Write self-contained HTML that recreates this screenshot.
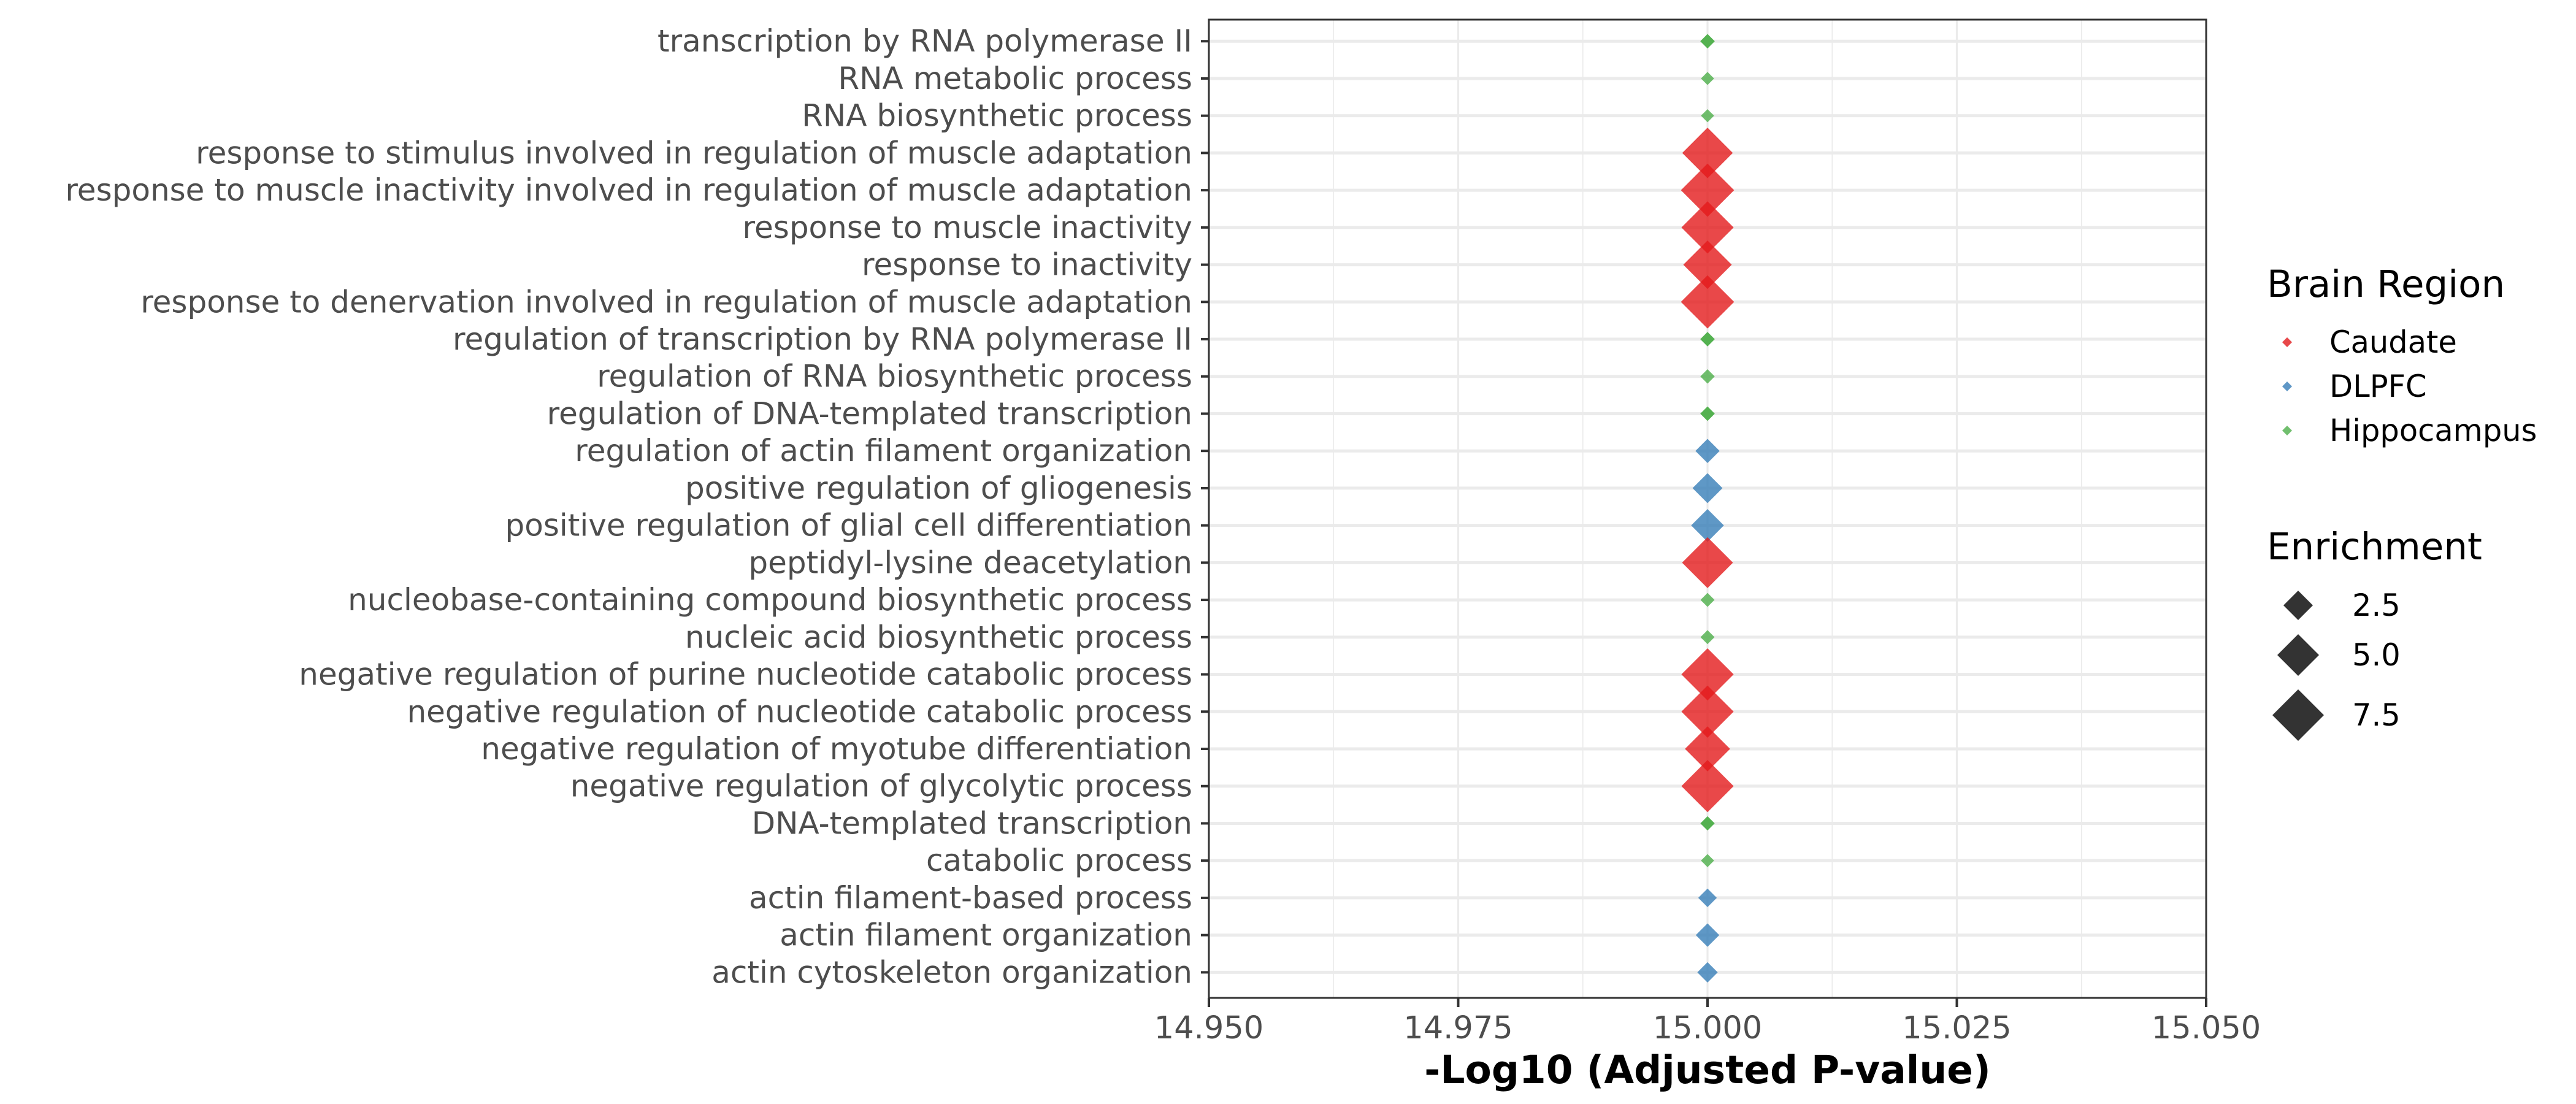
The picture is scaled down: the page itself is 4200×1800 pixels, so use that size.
<!DOCTYPE html>
<html><head><meta charset="utf-8">
<style>
html,body{margin:0;padding:0;background:#fff;}
svg{display:block;font-family:"DejaVu Sans","Liberation Sans",sans-serif;}
</style></head>
<body>
<svg id="chart" xmlns="http://www.w3.org/2000/svg" width="4200" height="1800" viewBox="0 0 4200 1800">
<rect x="0" y="0" width="4200" height="1800" fill="#fff"/>
<g id="grid"></g>
<g id="points"></g>
<g id="axes"></g>
<text x="2784" y="1766" text-anchor="middle" font-size="63" font-weight="bold" fill="#000">-Log10 (Adjusted P-value)</text>
<g>
<text x="3696" y="484" font-size="61" fill="#000">Brain Region</text>
<polygon points="3729,550 3737,558 3729,566 3721,558" fill="#E8484A"/>
<text x="3798" y="575" font-size="49.5" fill="#000">Caudate</text>
<polygon points="3729,622 3737,630 3729,638 3721,630" fill="#5F97C6"/>
<text x="3798" y="647" font-size="49.5" fill="#000">DLPFC</text>
<polygon points="3729,694 3737,702 3729,710 3721,702" fill="#71BF6E"/>
<text x="3798" y="719" font-size="49.5" fill="#000">Hippocampus</text>
</g>
<g>
<text x="3696" y="912" font-size="61" fill="#000">Enrichment</text>
<polygon points="3747,963 3771,987 3747,1011 3723,987" fill="#333"/>
<text x="3835" y="1004" font-size="49.5" fill="#000">2.5</text>
<polygon points="3747,1034 3781,1068 3747,1102 3713,1068" fill="#333"/>
<text x="3835" y="1085" font-size="49.5" fill="#000">5.0</text>
<polygon points="3747,1124 3789,1166 3747,1208 3705,1166" fill="#333"/>
<text x="3835" y="1183" font-size="49.5" fill="#000">7.5</text>
</g>
</svg>
<script>
const categories = [
"transcription by RNA polymerase II","RNA metabolic process","RNA biosynthetic process",
"response to stimulus involved in regulation of muscle adaptation",
"response to muscle inactivity involved in regulation of muscle adaptation",
"response to muscle inactivity","response to inactivity",
"response to denervation involved in regulation of muscle adaptation",
"regulation of transcription by RNA polymerase II","regulation of RNA biosynthetic process",
"regulation of DNA-templated transcription","regulation of actin filament organization",
"positive regulation of gliogenesis","positive regulation of glial cell differentiation",
"peptidyl-lysine deacetylation","nucleobase-containing compound biosynthetic process",
"nucleic acid biosynthetic process","negative regulation of purine nucleotide catabolic process",
"negative regulation of nucleotide catabolic process","negative regulation of myotube differentiation",
"negative regulation of glycolytic process","DNA-templated transcription","catabolic process",
"actin filament-based process","actin filament organization","actin cytoskeleton organization"];
const pointTerms = [0,0,1,2,3,4,5,6,7,8,8,9,10,10,11,12,13,14,15,16,17,18,19,20,21,21,22,23,24,25];
const pointRegions = ["Hippocampus","Hippocampus","Hippocampus","Hippocampus","Caudate","Caudate","Caudate","Caudate","Caudate","Hippocampus","Hippocampus","Hippocampus","Hippocampus","Hippocampus","DLPFC","DLPFC","DLPFC","Caudate","Hippocampus","Hippocampus","Caudate","Caudate","Caudate","Caudate","Hippocampus","Hippocampus","Hippocampus","DLPFC","DLPFC","DLPFC"];
const pointLogP = [15,15,15,15,15,15,15,15,15,15,15,15,15,15,15,15,15,15,15,15,15,15,15,15,15,15,15,15,15,15];
const pointEnrichment = [0.6,0.6,0.5,0.5,7.4,8.2,7.9,6.8,8.2,0.6,0.6,0.6,0.6,0.6,1.7,2.6,3.1,7.5,0.57,0.57,7.9,7.9,5.9,7.9,0.58,0.58,0.5,1.0,1.6,1.2];
const xTicks = [14.95,14.975,15.0,15.025,15.05];
const xTickLabels = ["14.950","14.975","15.000","15.025","15.050"];
const xMinor = [14.9625,14.9875,15.0125,15.0375];

const NS="http://www.w3.org/2000/svg";
const L=1971,R=3597,T=32,B=1627;
const xMin=14.95,xMax=15.05;
const step=(B-4-T)/(categories.length-1+1.2);
function xs(v){return L+(v-xMin)/(xMax-xMin)*(R-L);}
function ys(i){return T+(0.58+i)*step;}
function sz(e){return 30.3*Math.sqrt(e);}
const colors={Caudate:"#E41A1C",DLPFC:"#377EB8",Hippocampus:"#4DAF4A"};
function mk(tag,attrs,parent){const e=document.createElementNS(NS,tag);for(const k in attrs)e.setAttribute(k,attrs[k]);parent.appendChild(e);return e;}
const grid=document.getElementById('grid'),pts=document.getElementById('points'),axes=document.getElementById('axes');
mk('rect',{x:L,y:T,width:R-L,height:B-T,fill:'#fff'},grid);
xMinor.forEach(v=>{const l=mk('line',{x1:xs(v),x2:xs(v),y1:T,y2:B,stroke:'#EBEBEB','stroke-width':1.6},grid);

});
xTicks.forEach(v=>{const l=mk('line',{x1:xs(v),x2:xs(v),y1:T,y2:B,stroke:'#EBEBEB','stroke-width':3.2},grid);

});
categories.forEach((c,i)=>{const l=mk('line',{x1:L,x2:R,y1:ys(i),y2:ys(i),stroke:'#EBEBEB','stroke-width':5},grid);


const t=mk('text',{x:1944,y:ys(i)+17,'text-anchor':'end','font-size':50,fill:'#4D4D4D'},axes);t.textContent=c;


const tk=mk('line',{x1:1958,x2:L,y1:ys(i),y2:ys(i),stroke:'#333','stroke-width':4},axes);

});
pointTerms.forEach((ti,k)=>{const cx=xs(pointLogP[k]),cy=ys(ti),h=sz(pointEnrichment[k])/2;
const p=mk('polygon',{points:`${cx},${cy-h} ${cx+h},${cy} ${cx},${cy+h} ${cx-h},${cy}`,fill:colors[pointRegions[k]],'fill-opacity':0.8},pts);

});
const fr=mk('rect',{x:L,y:T,width:R-L,height:B-T,fill:'none',stroke:'#333','stroke-width':3},axes);


xTicks.forEach((v,i)=>{const tk=mk('line',{x1:xs(v),x2:xs(v),y1:B,y2:B+15,stroke:'#333','stroke-width':4},axes);


const t=mk('text',{x:xs(v),y:1693,'text-anchor':'middle','font-size':51,fill:'#4D4D4D'},axes);t.textContent=xTickLabels[i];

});
</script>
</body></html>
